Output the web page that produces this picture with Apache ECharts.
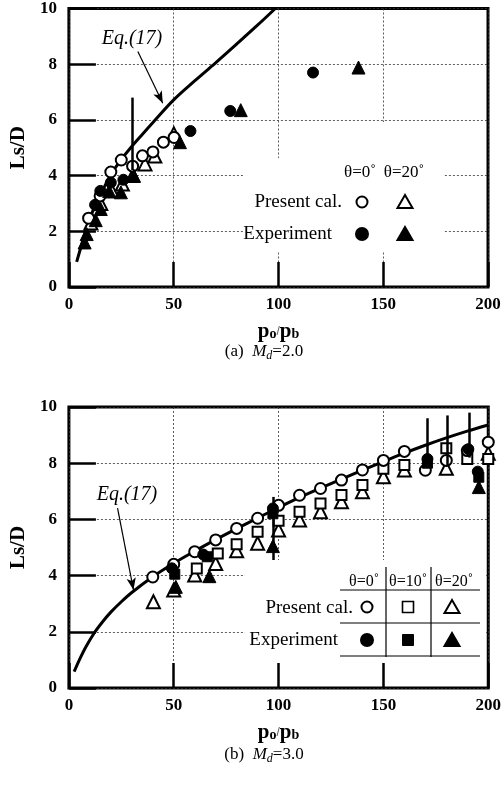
<!DOCTYPE html>
<html>
<head>
<meta charset="utf-8">
<script src="https://cdn.jsdelivr.net/npm/echarts@6/dist/echarts.min.js"></script>
<style>
  html, body { margin: 0; padding: 0; background: #fff; }
  #chart { width: 504px; height: 785px; }
</style>
</head>
<body>
<div id="chart"></div>
<script>
// 轴刻度
const xTicks = [0, 50, 100, 150, 200]
const yTicks = [0, 2, 4, 6, 8, 10]

// (a) Md=2.0
const topEq = [[3.7, 0.9], [6, 1.5], [9.5, 2.38], [15, 3.3], [20, 4.02], [25, 4.58], [30, 5.05], [35, 5.48], [40, 5.9], [50, 6.72], [60, 7.4], [70, 8.05], [80, 8.72], [90, 9.4], [98.5, 10]]
const topCalc0 = [[9.4, 2.47], [14.9, 3.27], [20, 4.13], [25, 4.56], [30.4, 4.34], [35.1, 4.71], [40.1, 4.85], [45.1, 5.2], [50.2, 5.37]]
const topCalc20 = [[10.5, 2.3], [15.2, 3.0], [20.5, 3.45], [25.5, 3.7], [30.5, 4.0], [36.3, 4.42], [41, 4.7], [50.1, 5.5]]
const topExp0 = [[12.5, 2.95], [15, 3.45], [20, 3.75], [26, 3.85], [58, 5.6], [77, 6.32], [116.5, 7.7]]
const topExp20 = [[7.5, 1.6], [8.5, 1.9], [12.8, 2.4], [15.2, 2.8], [19.2, 3.45], [24.8, 3.4], [31, 4.0], [53, 5.2], [82, 6.35], [138.2, 7.88]]
const topErr = [[[30.3, 6.8], [30.3, 4.2]]]
const topArrow = [[32.9, 8.46], [44.8, 6.6]]

// (b) Md=3.0
const botEq = [[2.5, 0.58], [5, 1.0], [8, 1.45], [12, 1.95], [16, 2.35], [20, 2.7], [25, 3.07], [30, 3.4], [40, 3.96], [50, 4.44], [60, 4.87], [70, 5.28], [80, 5.67], [90, 6.05], [100, 6.42], [110, 6.78], [120, 7.11], [130, 7.43], [140, 7.75], [150, 8.06], [160, 8.36], [170, 8.64], [180, 8.9], [190, 9.14], [200, 9.36]]
const botCalc0 = [[40, 3.95], [50, 4.4], [60, 4.85], [70, 5.27], [80, 5.68], [90, 6.04], [100, 6.5], [110, 6.86], [120, 7.1], [130, 7.4], [140, 7.76], [150, 8.1], [160, 8.42], [170, 7.75], [180, 8.1], [190, 8.45], [200, 8.75]]
const botCalc10 = [[61, 4.25], [71, 4.79], [80, 5.12], [90, 5.56], [100, 5.95], [110, 6.27], [120, 6.57], [130, 6.87], [140, 7.22], [150, 7.8], [160, 7.94], [180, 8.53], [190, 8.15], [200, 8.15]]
const botCalc20 = [[40.3, 3.07], [50, 3.49], [60, 4.02], [70, 4.43], [80, 4.88], [90, 5.15], [100, 5.62], [110, 5.98], [120, 6.27], [130, 6.63], [140, 6.98], [150, 7.52], [160, 7.76], [180, 7.82], [200, 8.35]]
const botExp0 = [[49.1, 4.26], [64.1, 4.75], [97.3, 6.39], [171, 8.15], [190.5, 8.5], [195, 7.7]]
const botExp10 = [[50.5, 4.05], [66, 4.67], [97.3, 6.2], [171, 8.0], [195.5, 7.5]]
const botExp20 = [[51, 3.6], [67, 3.98], [97.3, 5.05], [195.5, 7.15]]
const botErr = [[[97.3, 6.8], [97.3, 4.3]], [[171, 9.6], [171, 7.9]], [[180.6, 9.7], [180.6, 7.9]], [[190.8, 9.8], [190.8, 8.2]]]
const botArrow = [[23.2, 6.4], [30.8, 3.49]]

const SERIF = '"Liberation Serif", "Times New Roman", serif'

const axisFont = { fontFamily: SERIF, fontWeight: 'bold', fontSize: 17, color: '#000' }

const getXAxis = (gridIndex) => ({
  type: 'value',
  gridIndex,
  min: xTicks[0],
  max: xTicks[xTicks.length - 1],
  interval: xTicks[1] - xTicks[0],
  name: '{b|p}{s|o}/{b|p}{s|b}',
  nameLocation: 'middle',
  nameGap: 34,
  nameTextStyle: {
    rich: {
      b: { fontFamily: SERIF, fontWeight: 'bold', fontSize: 21, color: '#000' },
      s: { fontFamily: SERIF, fontWeight: 'bold', fontSize: 14, color: '#000', padding: [6, 0, 0, 0] }
    }
  },
  axisLine: { show: false },
  axisTick: { show: true, inside: true, length: 25, lineStyle: { color: '#000', width: 2.5 } },
  axisLabel: { ...axisFont, margin: 9 },
  splitLine: { show: true, lineStyle: { color: '#333', width: 0.8, type: [2, 2] } }
})

const getYAxis = (gridIndex) => ({
  type: 'value',
  gridIndex,
  min: yTicks[0],
  max: yTicks[yTicks.length - 1],
  interval: yTicks[1] - yTicks[0],
  name: 'Ls/D',
  nameLocation: 'middle',
  nameRotate: 90,
  nameGap: 36,
  nameTextStyle: { fontFamily: SERIF, fontWeight: 'bold', fontSize: 21, color: '#000' },
  axisLine: { show: false },
  axisTick: { show: true, inside: true, length: 27, lineStyle: { color: '#000', width: 2.5 } },
  axisLabel: { ...axisFont, margin: 12 },
  splitLine: { show: true, lineStyle: { color: '#333', width: 0.8, type: [2, 2] } }
})

// 曲线 + 误差线 + 箭头
const eqSeries = (idx, data, errs, arrow) => ({
  type: 'line',
  xAxisIndex: idx,
  yAxisIndex: idx,
  data,
  smooth: 0.35,
  showSymbol: false,
  lineStyle: { color: '#000', width: 3 },
  z: 2,
  markLine: {
    silent: true,
    animation: false,
    label: { show: false },
    data: [
      ...errs.map(([a, b]) => [
        { coord: a, symbol: 'none', lineStyle: { color: '#000', width: 2.5, type: 'solid' } },
        { coord: b, symbol: 'none' }
      ]),
      [
        { coord: arrow[0], symbol: 'none', lineStyle: { color: '#000', width: 1.2, type: 'solid' } },
        { coord: arrow[1], symbol: 'arrow', symbolSize: [7, 12] }
      ]
    ]
  }
})

const markSeries = (idx, data, symbol, filled) => ({
  type: 'scatter',
  xAxisIndex: idx,
  yAxisIndex: idx,
  data,
  symbol,
  symbolSize: symbol === 'circle' ? 11 : symbol === 'rect' ? 10 : 13,
  itemStyle: filled
    ? { color: '#000', borderColor: '#000', borderWidth: 1, opacity: 1 }
    : { color: '#fff', borderColor: '#000', borderWidth: 2, opacity: 1 },
  z: filled ? 5 : 4
})

// 图例用的小图形
const gCircle = (x, y, filled) => ({
  type: 'circle', z: 20,
  shape: { cx: x, cy: y, r: filled ? 6 : 5.5 },
  style: { fill: filled ? '#000' : '#fff', stroke: '#000', lineWidth: 2 }
})
const gRect = (x, y, filled) => ({
  type: 'rect', z: 20,
  shape: { x: x - 5.5, y: y - 5.5, width: 11, height: 11 },
  style: { fill: filled ? '#000' : '#fff', stroke: '#000', lineWidth: filled ? 1 : 1.6 }
})
const gTri = (x, y, filled) => ({
  type: 'polygon', z: 20,
  shape: { points: [[x, y - 7], [x - 7.5, y + 6], [x + 7.5, y + 6]] },
  style: { fill: filled ? '#000' : '#fff', stroke: '#000', lineWidth: 2 }
})
const gText = (text, x, y, size, align, extra = {}) => ({
  type: 'text', z: 20,
  style: { text, x, y, fill: '#000', font: `${size}px ${SERIF}`, align, verticalAlign: 'middle', ...extra }
})
const gLine = (x1, y1, x2, y2) => ({
  type: 'line', z: 20,
  shape: { x1, y1, x2, y2 },
  style: { stroke: '#000', lineWidth: 1.2 }
})
const caption = (label, num, x, y) => ({
  type: 'text', z: 20,
  style: {
    text: `{n|${label}  }{i|M}{d|d}{n|=${num}}`,
    x, y, align: 'center', verticalAlign: 'middle',
    rich: {
      n: { fontFamily: SERIF, fontSize: 17, fill: '#000' },
      i: { fontFamily: SERIF, fontSize: 17, fontStyle: 'italic', fill: '#000' },
      d: { fontFamily: SERIF, fontSize: 12, fontStyle: 'italic', fill: '#000', padding: [7, 0, 0, 0] }
    }
  }
})

const graphic = [
  // (a) 图例
  { type: 'rect', z: 10, shape: { x: 243, y: 158, width: 200, height: 94 }, style: { fill: '#fff' } },
  { type: 'rect', z: 10, shape: { x: 378, y: 122, width: 14, height: 40 }, style: { fill: '#fff' } },
  gText('θ=0˚', 360, 173, 17, 'center'),
  gText('θ=20˚', 404, 173, 17, 'center'),
  gText('Present cal.', 342, 202, 19, 'right'),
  gText('Experiment', 332, 234, 19, 'right'),
  gCircle(362, 202, false),
  gTri(405, 202, false),
  gCircle(362, 234, true),
  gTri(405, 234, true),
  gText('Eq.(17)', 132, 39, 20, 'center', { font: `italic 20px ${SERIF}` }),
  caption('(a)', '2.0', 264, 352),

  // (b) 图例
  { type: 'rect', z: 10, shape: { x: 245, y: 560, width: 241, height: 102 }, style: { fill: '#fff' } },
  gText('θ=0˚', 364, 582, 16, 'center'),
  gText('θ=10˚', 408, 582, 16, 'center'),
  gText('θ=20˚', 454, 582, 16, 'center'),
  gLine(340, 590, 480, 590),
  gLine(340, 623, 480, 623),
  gLine(340, 656, 480, 656),
  gLine(386, 567, 386, 657),
  gLine(431, 567, 431, 657),
  gText('Present cal.', 353, 608, 19, 'right'),
  gText('Experiment', 338, 640, 19, 'right'),
  gCircle(367, 607, false),
  gRect(408, 607, false),
  gTri(452, 607, false),
  gCircle(367, 640, true),
  gRect(408, 640, true),
  gTri(452, 640, true),
  gText('Eq.(17)', 127, 495, 20, 'center', { font: `italic 20px ${SERIF}` }),
  caption('(b)', '3.0', 264, 755)
]

const options = {
  backgroundColor: '#fff',
  animation: false,
  grid: [
    { left: 68, top: 7, width: 420, height: 280, show: true, borderColor: '#000', borderWidth: 3, backgroundColor: 'transparent' },
    { left: 68, top: 407, width: 422, height: 281, show: true, borderColor: '#000', borderWidth: 3, backgroundColor: 'transparent' }
  ],
  xAxis: [getXAxis(0), getXAxis(1)],
  yAxis: [getYAxis(0), getYAxis(1)],
  series: [
    eqSeries(0, topEq, topErr, topArrow),
    markSeries(0, topCalc20, 'triangle', false),
    markSeries(0, topCalc0, 'circle', false),
    markSeries(0, topExp0, 'circle', true),
    markSeries(0, topExp20, 'triangle', true),

    eqSeries(1, botEq, botErr, botArrow),
    markSeries(1, botCalc20, 'triangle', false),
    markSeries(1, botCalc10, 'rect', false),
    markSeries(1, botCalc0, 'circle', false),
    markSeries(1, botExp0, 'circle', true),
    markSeries(1, botExp10, 'rect', true),
    markSeries(1, botExp20, 'triangle', true)
  ],
  graphic
}

const chartInstance = echarts.init(document.getElementById('chart'), null, { renderer: 'canvas' })
chartInstance.setOption(options)
</script>
</body>
</html>
